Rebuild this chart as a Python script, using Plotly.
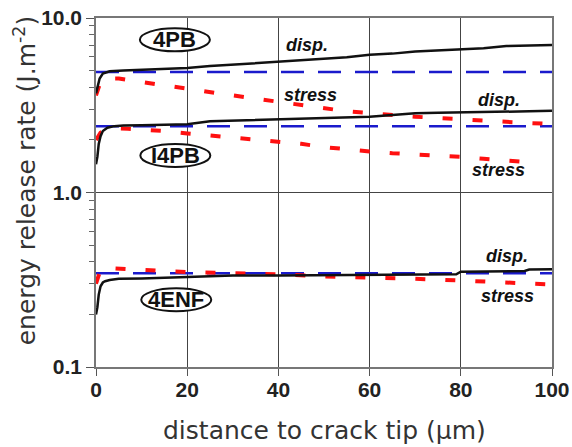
import numpy as np
import plotly.graph_objects as go

# ---- data ----
x_4pb_disp = [0, 0.3, 0.8, 1.5, 3, 6, 10, 15, 20, 25, 30, 35, 40, 45, 50, 55, 60, 65, 70, 75, 80, 85, 90, 95, 100]
y_4pb_disp = [3.7, 4.0, 4.5, 4.8, 4.95, 5.0, 5.05, 5.1, 5.17, 5.3, 5.4, 5.5, 5.63, 5.75, 5.85, 5.95, 6.15, 6.25, 6.43, 6.5, 6.6, 6.7, 6.9, 6.95, 7.0]
x_4pb_stress = [0, 0.5, 1, 2, 5, 10, 15, 20, 25, 30, 35, 40, 45, 50, 55, 60, 65, 70, 75, 80, 85, 90, 95, 100]
y_4pb_stress = [3.6, 4.0, 4.3, 4.5, 4.5, 4.3, 4.1, 3.95, 3.75, 3.6, 3.45, 3.3, 3.15, 3.02, 2.92, 2.85, 2.77, 2.72, 2.67, 2.62, 2.58, 2.53, 2.5, 2.47]
x_4pb_ref = [0, 100]
y_4pb_ref = [4.9, 4.9]

x_i4pb_disp = [0, 0.3, 0.6, 1, 1.5, 2.5, 4, 6, 10, 15, 20, 25, 30, 35, 40, 45, 50, 55, 60, 65, 70, 75, 80, 85, 90, 95, 100]
y_i4pb_disp = [1.45, 1.6, 1.9, 2.1, 2.25, 2.35, 2.4, 2.42, 2.43, 2.44, 2.46, 2.56, 2.58, 2.6, 2.62, 2.66, 2.68, 2.7, 2.72, 2.78, 2.85, 2.86, 2.87, 2.88, 2.9, 2.92, 2.94]
x_i4pb_stress = [0, 0.5, 1, 2, 4, 7, 10, 15, 20, 25, 30, 35, 40, 45, 50, 55, 60, 65, 70, 75, 80, 85, 90, 97]
y_i4pb_stress = [2.0, 2.1, 2.2, 2.3, 2.33, 2.32, 2.3, 2.25, 2.18, 2.12, 2.06, 2.0, 1.95, 1.9, 1.82, 1.76, 1.72, 1.68, 1.66, 1.63, 1.6, 1.56, 1.52, 1.48]
x_i4pb_ref = [0, 100]
y_i4pb_ref = [2.4, 2.4]

x_enf_disp = [0, 0.3, 0.6, 1, 1.5, 2, 3, 5, 10, 15, 20, 25, 30, 40, 50, 60, 70, 79, 80, 90, 94, 95, 100]
y_enf_disp = [0.2, 0.22, 0.26, 0.29, 0.305, 0.31, 0.315, 0.32, 0.322, 0.325, 0.33, 0.333, 0.335, 0.335, 0.336, 0.337, 0.338, 0.34, 0.352, 0.353, 0.355, 0.362, 0.363]
x_enf_stress = [0, 0.5, 1, 2, 5, 10, 20, 30, 40, 50, 60, 70, 80, 90, 100]
y_enf_stress = [0.30, 0.33, 0.36, 0.37, 0.365, 0.36, 0.35, 0.345, 0.34, 0.33, 0.326, 0.32, 0.313, 0.305, 0.297]
x_enf_ref = [0, 100]
y_enf_ref = [0.345, 0.345]

x_ticks = [0, 20, 40, 60, 80, 100]
y_ticks = [0.1, 1.0, 10.0]
y_tick_text = ["0.1", "1.0", "10.0"]
y_minor = [0.2, 0.3, 0.4, 0.5, 0.6, 0.7, 0.8, 0.9, 2, 3, 4, 5, 6, 7, 8, 9]

# test labels: (text, x, y)
case_labels = [("4PB", 17.3, 7.5), ("I4PB", 17.4, 1.63), ("4ENF", 17.6, 0.243)]
curve_labels = [("disp.", 46.3, 7.0), ("stress", 47, 3.63), ("disp.", 88.3, 3.4),
                ("stress", 88.3, 1.35), ("disp.", 90.2, 0.43), ("stress", 90.2, 0.256)]

BLACK = "#111111"
RED = "#ff1010"
BLUE = "#1a1acc"
Y_LOG_RANGE = [-1, 1]

fig = go.Figure()

def add(x, y, color, width, dash):
    fig.add_trace(go.Scatter(x=x, y=y, mode="lines", line=dict(color=color, width=width, dash=dash),
                             showlegend=False, hoverinfo="skip"))

for xs, ys in [(x_4pb_ref, y_4pb_ref), (x_i4pb_ref, y_i4pb_ref), (x_enf_ref, y_enf_ref)]:
    add(xs, ys, BLUE, 2.5, "23px,14px")
for xs, ys in [(x_4pb_stress, y_4pb_stress), (x_i4pb_stress, y_i4pb_stress), (x_enf_stress, y_enf_stress)]:
    add(xs, ys, RED, 4, "10px,20px")
for xs, ys in [(x_4pb_disp, y_4pb_disp), (x_i4pb_disp, y_i4pb_disp), (x_enf_disp, y_enf_disp)]:
    add(xs, ys, BLACK, 2.5, "solid")

FONT = "Liberation Sans, Arial, sans-serif"
TFONT = "DejaVu Sans, sans-serif"

def paper_y(v):
    return (np.log10(v) - Y_LOG_RANGE[0]) / (Y_LOG_RANGE[1] - Y_LOG_RANGE[0])

for text, xv, yv in case_labels:
    fig.add_shape(type="circle", xref="x", yref="paper", xsizemode="pixel", ysizemode="pixel",
                  xanchor=xv, yanchor=paper_y(yv), x0=-35, x1=35, y0=-11.5, y1=11.5,
                  line=dict(color=BLACK, width=2), fillcolor="white", layer="above")
    fig.add_annotation(x=xv, y=np.log10(yv), text="<b>%s</b>" % text, showarrow=False,
                       font=dict(family=FONT, size=22, color=BLACK))

for text, xv, yv in curve_labels:
    fig.add_annotation(x=xv, y=np.log10(yv), text="<b><i>%s</i></b>" % text, showarrow=False,
                       font=dict(family=FONT, size=18, color=BLACK))

# axis titles
fig.add_annotation(xref="paper", yref="paper", x=0.5, y=0, yshift=-63, yanchor="middle",
                   text="distance to crack tip (µm)", showarrow=False,
                   font=dict(family=TFONT, size=25, color="#333333"))
fig.add_annotation(xref="paper", yref="paper", x=0, xshift=-71, y=0.535, xanchor="center", yanchor="middle",
                   text="energy release rate (J.m<sup>-2</sup>)", textangle=-90, showarrow=False,
                   font=dict(family=TFONT, size=25, color="#333333"))

fig.update_layout(
    width=572, height=447,
    margin=dict(l=96, r=20, t=18, b=80, autoexpand=False),
    paper_bgcolor="white", plot_bgcolor="white",
    font=dict(family=FONT, color="#333333"),
    xaxis=dict(range=[0, 100], tickvals=x_ticks, ticktext=["<b>%d</b>" % v for v in x_ticks],
               tickfont=dict(size=21, color="#222222"), ticks="outside", ticklen=7, tickcolor="#555555",
               ticklabelstandoff=-4,
               showgrid=True, gridcolor="#444444", gridwidth=1, zeroline=False, automargin=False,
               showline=True, linecolor="#777777", linewidth=1.5, mirror=True),
    yaxis=dict(type="log", range=Y_LOG_RANGE, tickvals=y_ticks, ticktext=["<b>%s</b>" % t for t in y_tick_text],
               tickfont=dict(size=21, color="#222222"), ticks="outside", ticklen=8, tickcolor="#555555",
               showgrid=True, gridcolor="#444444", gridwidth=1, zeroline=False, automargin=False,
               showline=True, linecolor="#777777", linewidth=1.5, mirror=True,
               minor=dict(tickvals=y_minor, ticks="outside", ticklen=5, tickcolor="#666666", showgrid=False)),
)

fig.write_html("out.html")
